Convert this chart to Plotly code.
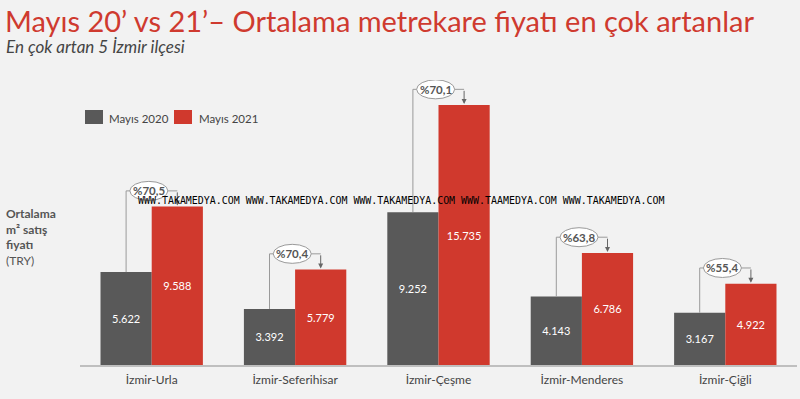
import plotly.graph_objects as go

categories = ["İzmir-Urla", "İzmir-Seferihisar", "İzmir-Çeşme", "İzmir-Menderes", "İzmir-Çiğli"]
values_2020 = [5622, 3392, 9252, 4143, 3167]
values_2021 = [9588, 5779, 15735, 6786, 4922]
pct_change = [70.5, 70.4, 70.1, 63.8, 55.4]
series_names = ["Mayıs 2020", "Mayıs 2021"]

GRAY = "#595959"
RED = "#d0392d"
BG = "#f2f2f2"
FONT = "Lato"

# layout geometry (pixels)
W, H = 800, 399
ML, MR, MT, MB = 80, 3, 80, 34
PW = W - ML - MR
PH = H - MT - MB
YMAX = 17250
BARGAP = 0.286
OFF = (1 - BARGAP) / 4  # center offset of each bar in group


def px2paper(px, py):
    return (px - ML) / PW, (H - MB - py) / PH


def fmt(v):
    return f"{v:,}".replace(",", ".")


xs = list(range(len(categories)))

fig = go.Figure()
fig.add_trace(go.Bar(
    x=xs, y=values_2020, name=series_names[0], marker_color=GRAY,
    text=[fmt(v) for v in values_2020], textposition="inside",
    insidetextanchor="middle", textfont=dict(color="white", size=11, family=FONT),
    marker_line_width=0,
))
fig.add_trace(go.Bar(
    x=xs, y=values_2021, name=series_names[1], marker_color=RED,
    text=[fmt(v) for v in values_2021], textposition="inside",
    insidetextanchor="middle", textfont=dict(color="white", size=11, family=FONT),
    marker_line_width=0,
))

shapes = []
annotations = []

# brackets with percentage ellipses
BR_OFF = 950
EW = 38 / PW * len(categories)
EH = 19 / PH * YMAX
for i, (a, b, p) in enumerate(zip(values_2020, values_2021, pct_change)):
    yb = b + BR_OFF
    xg = i - OFF
    xr = i + OFF
    line = dict(color="#9a9a9a", width=1)
    shapes.append(dict(type="line", xref="x", yref="y", x0=xg, x1=xg, y0=a, y1=yb, line=line, layer="above"))
    shapes.append(dict(type="line", xref="x", yref="y", x0=xg, x1=xr, y0=yb, y1=yb, line=line, layer="above"))
    shapes.append(dict(type="circle", xref="x", yref="y",
                       x0=i - 0.02 - EW / 2, x1=i - 0.02 + EW / 2,
                       y0=yb - EH / 2, y1=yb + EH / 2,
                       fillcolor="white", line=dict(color="#9a9a9a", width=1), layer="above"))
    annotations.append(dict(x=xr, y=b + 60, ax=xr, ay=yb, xref="x", yref="y", axref="x", ayref="y",
                            text="", showarrow=True, arrowhead=2, arrowsize=1, arrowwidth=1,
                            arrowcolor="#666666"))
    annotations.append(dict(x=i - 0.02, y=yb, xref="x", yref="y", showarrow=False,
                            text="<b>%" + f"{p:.1f}".replace(".", ",") + "</b>",
                            font=dict(size=11.5, color="#555555", family=FONT)))

# manual legend
for k, (name, col, sx, tx) in enumerate(zip(series_names, [GRAY, RED], [85, 174], [107, 197])):
    x0, y0 = px2paper(sx, 124)
    x1, y1 = px2paper(sx + 18, 110)
    shapes.append(dict(type="rect", xref="paper", yref="paper", x0=x0, x1=x1, y0=y0, y1=y1,
                       fillcolor=col, line=dict(width=0)))
    tx_p, ty_p = px2paper(tx, 118)
    annotations.append(dict(x=tx_p, y=ty_p, xref="paper", yref="paper", xanchor="left", yanchor="middle",
                            text=name, showarrow=False, font=dict(size=11.5, color="#444444", family=FONT)))


def add_text(px, py, text, font, align="left"):
    xp, yp = px2paper(px, py)
    annotations.append(dict(x=xp, y=yp, xref="paper", yref="paper", xanchor="left", yanchor="top",
                            align=align, text=text, showarrow=False, font=font))


# title & subtitle
add_text(3, 1, "Mayıs 20’ vs 21’– Ortalama metrekare fiyatı en çok artanlar",
         dict(size=29, color="#cf3a2f", family=FONT))
add_text(4, 34, "<i>En çok artan 5 İzmir ilçesi</i>", dict(size=17, color="#444444", family=FONT))

# y-axis caption
add_text(4, 204, "<b>Ortalama</b><br><b>m² satış</b><br><b>fiyatı</b><br>(TRY)",
         dict(size=12, color="#555555", family=FONT))

# watermark
wx, wy = px2paper(136, 200)
annotations.append(dict(x=wx, y=wy, xref="paper", yref="paper", xanchor="left", yanchor="middle",
                        text="WWW.TAKAMEDYA.COM WWW.TAKAMEDYA.COM WWW.TAKAMEDYA.COM WWW.TAAMEDYA.COM WWW.TAKAMEDYA.COM",
                        showarrow=False, font=dict(size=9.95, color="black", family="DejaVu Sans Mono")))

fig.update_layout(
    width=W, height=H,
    margin=dict(l=ML, r=MR, t=MT, b=MB),
    paper_bgcolor=BG, plot_bgcolor=BG,
    barmode="group", bargap=BARGAP, bargroupgap=0,
    showlegend=False,
    shapes=shapes, annotations=annotations,
    font=dict(family=FONT),
    uniformtext=dict(mode="show", minsize=8),
)
fig.update_xaxes(tickvals=xs, ticktext=categories, range=[-0.5, len(categories) - 0.5],
                 showline=True, linecolor="#bfbfbf", linewidth=2, showgrid=False, zeroline=False,
                 tickfont=dict(size=12, color="#444444", family=FONT), ticks="", ticklabelstandoff=3)
fig.update_yaxes(range=[0, YMAX], visible=False, showgrid=False, zeroline=False)

fig.write_html("out.html", config={"displayModeBar": False},
               post_script="document.body.style.margin='0';document.body.style.background='#f2f2f2';")
